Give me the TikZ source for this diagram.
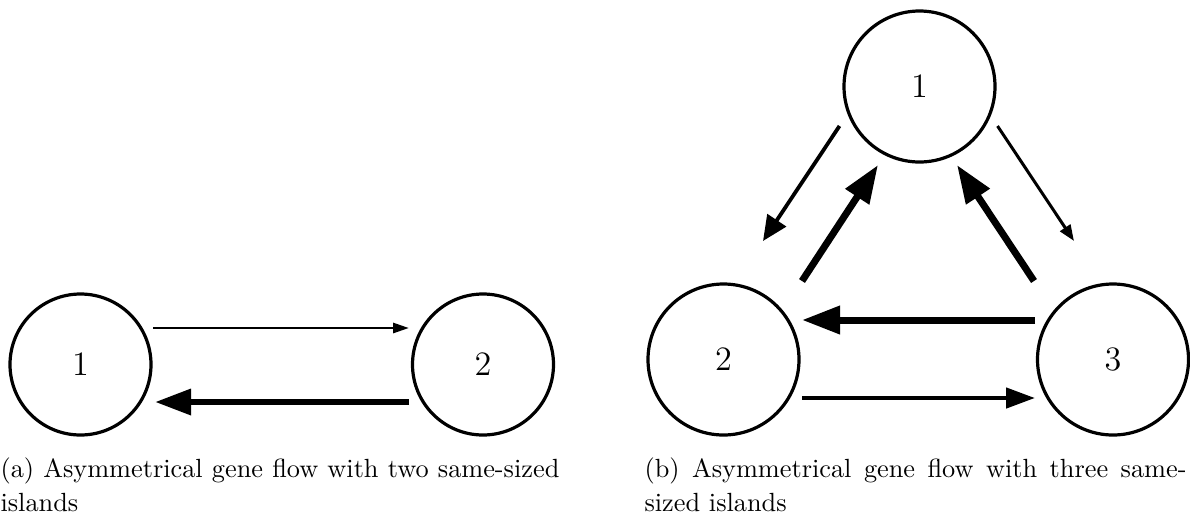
\documentclass[tikz,border=0pt]{standalone}
\usetikzlibrary{arrows.meta,calc}
\newcommand{\isllabel}[1]{\scalebox{2.63}{\fontsize{13}{15}\selectfont #1}}
\begin{document}
\begin{tikzpicture}[x=1pt,y=-1pt,
  island/.style={circle,draw,line width=3.2pt,inner sep=0pt},
  smallisl/.style={island,minimum size=141pt},
  bigisl/.style={island,minimum size=151pt},
  flowA/.style={line width=2.8pt,-{Triangle[length=16pt,width=10pt]}},
  flowB/.style={line width=3pt,-{Triangle[length=16pt,width=12pt]}},
  flowC/.style={line width=3.8pt,-{Triangle[length=25pt,width=22pt]}},
  flowD/.style={line width=4.5pt,-{Triangle[length=29pt,width=20pt]}},
  flowE/.style={line width=6.5pt,-{Triangle[length=36pt,width=25pt]}},
  flowF/.style={line width=7pt,-{Triangle[length=38pt,width=27pt]}},
  capt/.style={anchor=base west,inner sep=0pt,scale=2.63,transform shape}
]
\useasboundingbox (0,0) rectangle (1190,515);
% (a)
\node[smallisl] (L1) at (80.5,364.5) {\isllabel{1}};
\node[smallisl] (L2) at (483,364.5) {\isllabel{2}};
\draw[flowA] ($(L1)+(72.5,-36.5)$) -- ($(L2)+(-74,-36.5)$);
\draw[flowE] ($(L2)+(-74,37.5)$) -- ($(L1)+(74.5,37.5)$);
% (b)
\node[bigisl] (R1) at (919.5,86.5) {\isllabel{1}};
\node[bigisl] (R2) at (723.5,359.5) {\isllabel{2}};
\node[bigisl] (R3) at (1113,359.5) {\isllabel{3}};
\draw[flowF] ($(R3)+(-78,-39.5)$) -- ($(R2)+(78.5,-39.5)$);
\draw[flowD] ($(R2)+(78.5,38.5)$) -- ($(R3)+(-78,38.5)$);
\draw[flowC] ($(R1)+(-80,39.5)$) -- ($(R2)+(39.5,-118.5)$);
\draw[flowF] ($(R2)+(78.5,-78.5)$) -- ($(R1)+(-41.5,78.5)$);
\draw[flowF] ($(R3)+(-79,-78.5)$) -- ($(R1)+(37.5,78.5)$);
\draw[flowB] ($(R1)+(78,39.5)$) -- ($(R3)+(-39,-118.5)$);
% captions
\node[capt] (ca) at (0,477.5) {\parbox[t]{212.5pt}{\fontsize{10}{12.74}\selectfont (a) Asymmetrical gene flow with two same-sized islands}};
\node[capt] (cb) at (644,477.5) {\parbox[t]{206.1pt}{\fontsize{10}{12.74}\selectfont (b) Asymmetrical gene flow with three same-sized islands}};
\end{tikzpicture}
\end{document}
